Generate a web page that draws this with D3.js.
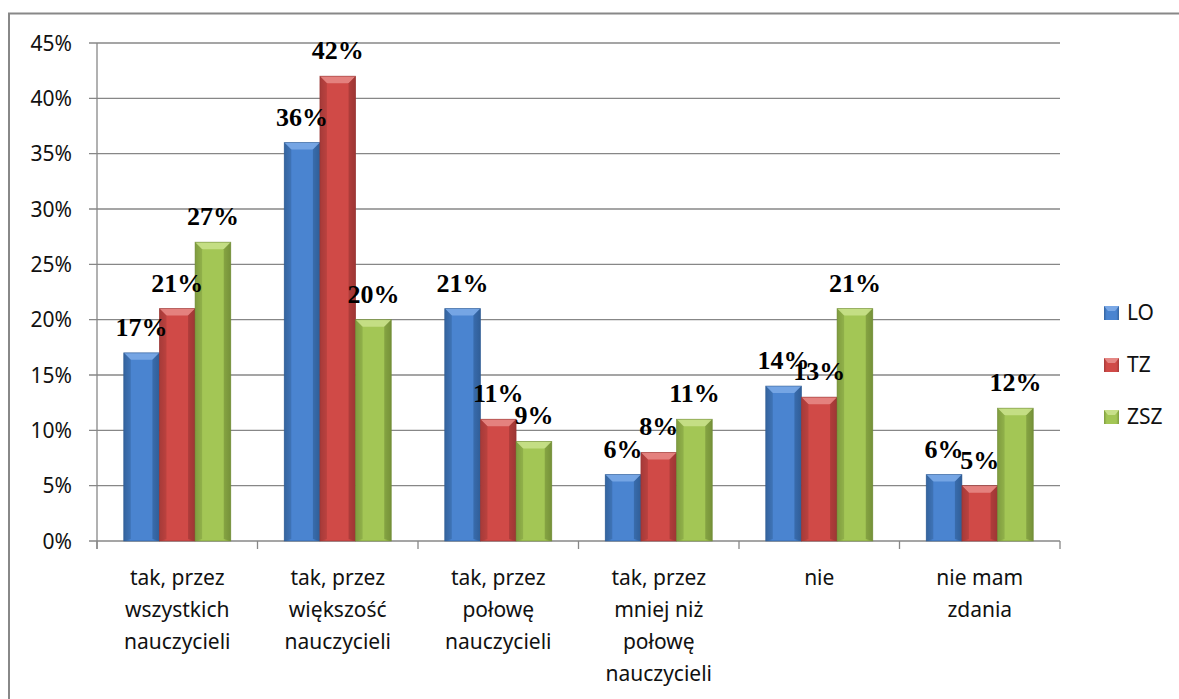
<!DOCTYPE html>
<html><head><meta charset="utf-8">
<script src="https://cdn.jsdelivr.net/npm/d3@7"></script>
<style>
html,body{margin:0;padding:0;background:#fff;}
svg{display:block;}
</style></head>
<body>
<svg id="c" width="1179" height="699"></svg>
<script>
const categories = [
  ["tak, przez","wszystkich","nauczycieli"],
  ["tak, przez","większość","nauczycieli"],
  ["tak, przez","połowę","nauczycieli"],
  ["tak, przez","mniej niż","połowę","nauczycieli"],
  ["nie"],
  ["nie mam","zdania"]
];
const seriesNames = ["LO","TZ","ZSZ"];
const LO  = [17,36,21,6,14,6];
const TZ  = [21,42,11,8,13,5];
const ZSZ = [27,20,9,11,21,12];
const yTicks = [0,5,10,15,20,25,30,35,40,45];
const seriesValues = [LO,TZ,ZSZ];
const colors = {
  LO:  {edge:"#35649f", mid:"#4a84d0", light:"#7aa8e6", dark:"#2d5a92"},
  TZ:  {edge:"#a63b39", mid:"#d04a47", light:"#e58784", dark:"#973432"},
  ZSZ: {edge:"#7f9c3f", mid:"#a3c655", light:"#c8e08a", dark:"#6f8a35"}
};

const svg = d3.select("#c");
const m = {left:97, right:1060, top:43, bottom:541};

// outer border
svg.append("rect").attr("x",9).attr("y",13.5).attr("width",1200).attr("height",720)
  .attr("fill","none").attr("stroke","#888").attr("stroke-width",2);

const y = d3.scaleLinear().domain([0,45]).range([m.bottom,m.top]);
const x0 = d3.scaleBand().domain(d3.range(categories.length)).range([m.left,m.right]).padding(0);
const x1 = d3.scaleBand().domain(seriesNames).range([0,x0.bandwidth()]).paddingOuter(0.75).paddingInner(0);

// gradients
const defs = svg.append("defs");
seriesNames.forEach(s=>{
  const g = defs.append("linearGradient").attr("id","g"+s).attr("x1","0").attr("x2","1").attr("y1","0").attr("y2","0");
  g.append("stop").attr("offset","0").attr("stop-color",colors[s].edge);
  g.append("stop").attr("offset","0.18").attr("stop-color",colors[s].mid);
  g.append("stop").attr("offset","0.5").attr("stop-color",colors[s].mid);
  g.append("stop").attr("offset","0.82").attr("stop-color",colors[s].mid);
  g.append("stop").attr("offset","1").attr("stop-color",colors[s].edge);
});

// gridlines
const grid = svg.append("g");
yTicks.forEach(t=>{
  grid.append("line").attr("x1",m.left-8).attr("x2",m.right).attr("y1",y(t)).attr("y2",y(t))
    .attr("stroke","#878787").attr("stroke-width",1.3);
});
// y axis line
svg.append("line").attr("x1",m.left).attr("x2",m.left).attr("y1",m.top).attr("y2",m.bottom+8)
  .attr("stroke","#878787").attr("stroke-width",1.3);
// x ticks
d3.range(categories.length+1).forEach(i=>{
  const xx = i<categories.length ? x0(i) : m.right;
  svg.append("line").attr("x1",xx).attr("x2",xx).attr("y1",m.bottom).attr("y2",m.bottom+8)
    .attr("stroke","#878787").attr("stroke-width",1.3);
});

// y labels
svg.append("g").selectAll("text").data(yTicks).join("text")
  .attr("x",m.left-25).attr("y",d=>y(d)).attr("dy","0.36em").attr("text-anchor","end")
  .attr("font-family","'Noto Sans', sans-serif").attr("font-size",21).attr("fill","#111")
  .text(d=>d+"%");

// bars
const bars = svg.append("g");
const bevel = 7;
seriesNames.forEach((s,si)=>{
  seriesValues[si].forEach((v,ci)=>{
    const bx = x0(ci)+x1(s), bw = x1.bandwidth(), by = y(v), bh = y(0)-y(v);
    const g = bars.append("g");
    g.append("rect").attr("x",bx).attr("y",by).attr("width",bw).attr("height",bh).attr("fill","url(#g"+s+")");
    // top bevel
    g.append("polygon").attr("points",[[bx,by],[bx+bw,by],[bx+bw-bevel,by+bevel],[bx+bevel,by+bevel]].map(p=>p.join(",")).join(" "))
      .attr("fill",colors[s].light).attr("opacity",0.9);
    // left bevel
    g.append("polygon").attr("points",[[bx,by],[bx+bevel,by+bevel],[bx+bevel,y(0)-2],[bx,y(0)]].map(p=>p.join(",")).join(" "))
      .attr("fill",colors[s].edge).attr("opacity",0.55);
    // right bevel
    g.append("polygon").attr("points",[[bx+bw,by],[bx+bw-bevel,by+bevel],[bx+bw-bevel,y(0)-2],[bx+bw,y(0)]].map(p=>p.join(",")).join(" "))
      .attr("fill",colors[s].dark).attr("opacity",0.6);
    g.append("rect").attr("x",bx).attr("y",by).attr("width",bw).attr("height",bh)
      .attr("fill","none").attr("stroke",colors[s].dark).attr("stroke-width",0.8).attr("stroke-opacity",0.7);
  });
});

// data labels
const lab = svg.append("g");
seriesNames.forEach((s,si)=>{
  seriesValues[si].forEach((v,ci)=>{
    lab.append("text").attr("x",x0(ci)+x1(s)+x1.bandwidth()/2).attr("y",y(v)-17)
      .attr("text-anchor","middle").attr("font-family","'Liberation Serif','Times New Roman',serif")
      .attr("font-weight","bold").attr("font-size",26).attr("fill","#000").text(v+"%");
  });
});

// category labels
const cl = svg.append("g");
categories.forEach((lines,ci)=>{
  const t = cl.append("text").attr("x",x0(ci)+x0.bandwidth()/2).attr("y",585)
    .attr("text-anchor","middle").attr("font-family","'Noto Sans', sans-serif").attr("font-size",21).attr("fill","#111");
  lines.forEach((ln,li)=>{
    t.append("tspan").attr("x",x0(ci)+x0.bandwidth()/2).attr("y",585+li*32).text(ln);
  });
});

// legend
const lg = svg.append("g");
seriesNames.forEach((s,i)=>{
  const cy = 312 + i*52;
  lg.append("rect").attr("x",1104).attr("y",cy-6).attr("width",15).attr("height",14).attr("fill","url(#g"+s+")");
  lg.append("polygon").attr("points",[[1104,cy-6],[1119,cy-6],[1115,cy-1],[1108,cy-1]].map(p=>p.join(",")).join(" ")).attr("fill",colors[s].light);
  lg.append("text").attr("x",1127).attr("y",cy).attr("dy","0.36em")
    .attr("font-family","'Noto Sans', sans-serif").attr("font-size",21).attr("fill","#111").text(s);
});
</script>
</body></html>
